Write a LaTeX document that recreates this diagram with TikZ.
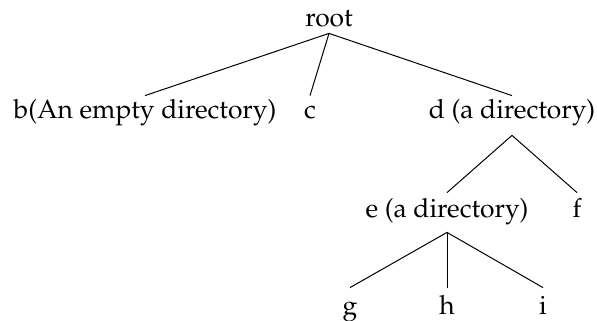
\documentclass[tikz,border=0pt]{standalone}
\usepackage[T1]{fontenc}
\usepackage{mathpazo}
\begin{document}
\begin{tikzpicture}[x=0.5pt,y=-0.5pt,
  lbl/.style={inner sep=0pt,anchor=base,font=\fontsize{13.2}{16}\selectfont},
  edge/.style={line width=0.5pt}]
\useasboundingbox (0,0) rectangle (597,320);
\node[lbl,text depth=3pt] (root) at (329,27) {root};
\node[lbl,text height=11.5pt] (b) at (145,119) {b(An empty directory)};
\node[lbl,text height=11.5pt] (c) at (310,119) {c};
\node[lbl,text height=11.5pt,text depth=8pt] (d) at (512,119) {d (a directory)};
\node[lbl,text height=12pt,text depth=7.5pt] (e) at (447,217) {e (a directory)};
\node[lbl,text height=12pt] (f) at (577,217) {f};
\node[lbl,text height=13pt] (g) at (350,314) {g};
\node[lbl,text height=13pt] (h) at (447,314) {h};
\node[lbl,text height=13pt] (i) at (543,314) {i};
\draw[edge] (root.south) -- (b.north);
\draw[edge] (root.south) -- (c.north);
\draw[edge] (root.south) -- (d.north);
\draw[edge] (d.south) -- (e.north);
\draw[edge] (d.south) -- (f.north);
\draw[edge] (e.south) -- (g.north);
\draw[edge] (e.south) -- (h.north);
\draw[edge] (e.south) -- (i.north);
\end{tikzpicture}
\end{document}
